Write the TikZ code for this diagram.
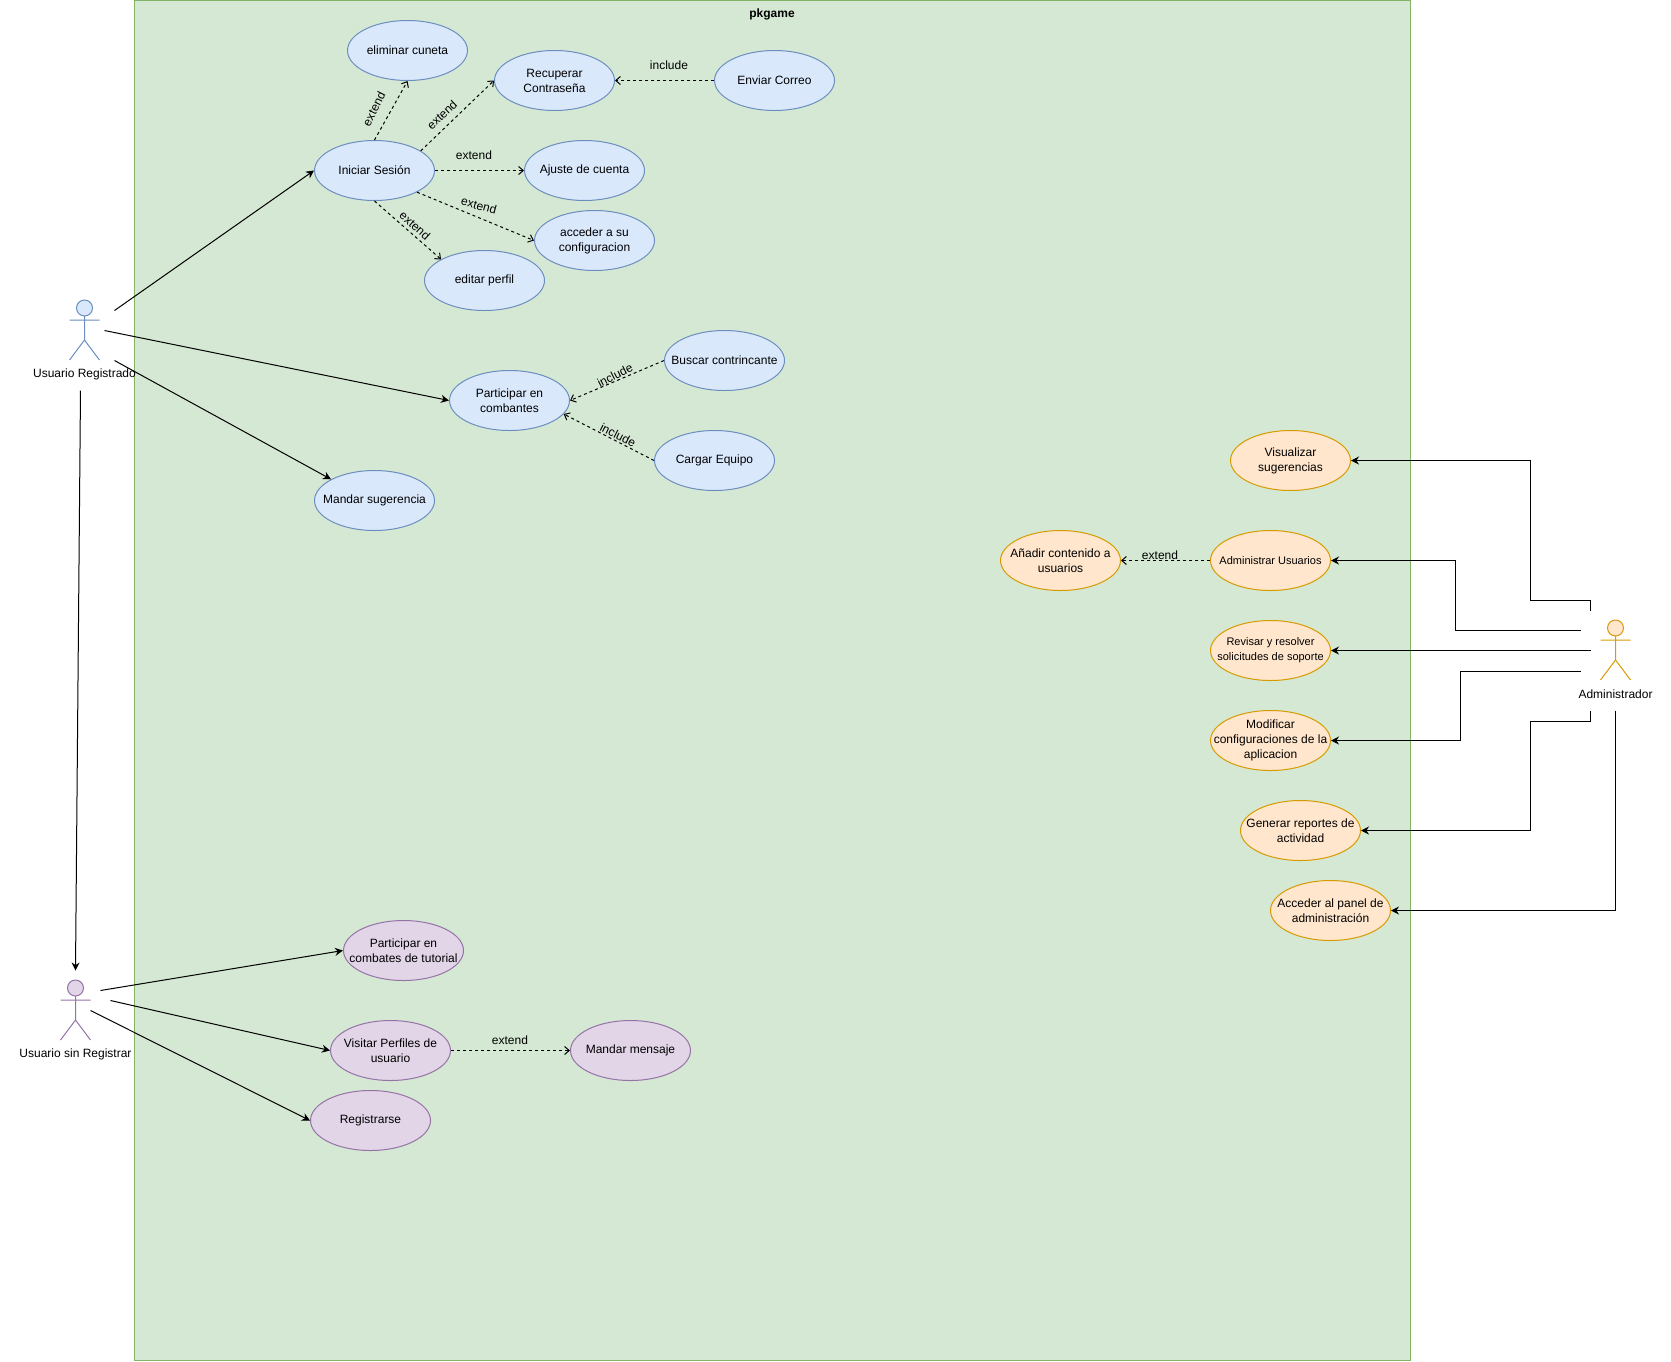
\documentclass[tikz,border=0pt]{standalone}
\usepackage{fontspec}
\setmainfont{Liberation Sans}
\usetikzlibrary{shapes.geometric, arrows.meta}

\definecolor{pkgfill}{HTML}{D5E8D4}
\definecolor{pkgline}{HTML}{82B366}
\definecolor{regfill}{HTML}{DAE8FC}
\definecolor{regline}{HTML}{6C8EBF}
\definecolor{admfill}{HTML}{FFE6CC}
\definecolor{admline}{HTML}{D79B00}
\definecolor{guestfill}{HTML}{E1D5E7}
\definecolor{guestline}{HTML}{9673A6}

\tikzset{
    txt/.style={font=\fontsize{9pt}{11.25pt}\selectfont, align=center, inner sep=0pt},
    usecase/.style={txt, ellipse, draw, line width=.75pt, inner xsep=-14pt, inner ysep=-4pt, minimum width=90pt, minimum height=45pt, execute at begin node={\vspace*{2.25pt}}},
    regcase/.style={usecase, draw=regline, fill=regfill},
    admcase/.style={usecase, draw=admline, fill=admfill},
    guestcase/.style={usecase, draw=guestline, fill=guestfill},
    smalltxt/.style={font=\fontsize{8.25pt}{11.25pt}\selectfont},
    assoc/.style={line width=.75pt, -{Stealth[length=6pt,width=6pt]}},
    relation/.style={line width=.75pt, dash pattern=on 2.25pt off 2.25pt, -{Straight Barb[length=3.5pt,width=6pt]}},
    actor/.pic={
        \draw[line width=.75pt, draw=#1line, fill=#1fill] (0,8) circle[radius=8];
        \draw[line width=.75pt, draw=#1line] (0,16) -- (0,40)
            (-15,20) -- (15,20)
            (-15,60) -- (0,40) -- (15,60);
    }
}

\begin{document}
\begin{tikzpicture}[x=.75pt, y=-.75pt]
        \useasboundingbox (0,0) rectangle (1671,1361);

        \node[draw=pkgline, fill=pkgfill, line width=.75pt, anchor=north west, inner sep=0pt, minimum width=957pt, minimum height=1020pt] (pkgame) at (134,0) {};
        \node[txt, font=\fontsize{9pt}{11pt}\selectfont\bfseries] (pkgametitle) at (772,14.5) {pkgame};

        \pic at (84.5,300) {actor=reg};
        \pic at (75.5,980) {actor=guest};
        \pic at (1615.5,620) {actor=adm};
        \node[txt] (reglabel) at (84.5,374.5) {Usuario Registrado};
        \node[txt] (guestlabel) at (75.5,1054.5) {Usuario sin Registrar};
        \node[txt] (admlabel) at (1615.5,694.5) {Administrador};

        \node[regcase] (eliminar) at (407.5,50.5) {eliminar cuneta};
        \node[regcase] (recuperar) at (554.5,80.5) {Recuperar\\Contraseña};
        \node[regcase] (enviar) at (774.5,80.5) {Enviar Correo};
        \node[regcase] (iniciar) at (374.5,170.5) {Iniciar Sesión};
        \node[regcase] (ajuste) at (584.5,170.5) {Ajuste de cuenta};
        \node[regcase] (acceder) at (594.5,240.5) {acceder a su\\configuracion};
        \node[regcase] (editar) at (484.5,280.5) {editar perfil};
        \node[regcase] (buscar) at (724.5,360.5) {Buscar contrincante};
        \node[regcase] (participar) at (509.5,400.5) {Participar en\\combantes};
        \node[regcase] (cargar) at (714.5,460.5) {Cargar Equipo};
        \node[regcase] (sugerencia) at (374.5,500.5) {Mandar sugerencia};

        \node[admcase] (visualizar) at (1290.5,460.5) {Visualizar\\sugerencias};
        \node[admcase] (anadir) at (1060.5,560.5) {Añadir contenido a\\usuarios};
        \node[admcase, smalltxt] (administrar) at (1270.5,560.5) {Administrar Usuarios};
        \node[admcase, smalltxt] (revisar) at (1270.5,650.5) {Revisar y resolver\\solicitudes de soporte};
        \node[admcase] (modificar) at (1270.5,740.5) {Modificar\\configuraciones de la\\aplicacion};
        \node[admcase] (generar) at (1300.5,830.5) {Generar reportes de\\actividad};
        \node[admcase] (panel) at (1330.5,910.5) {Acceder al panel de\\administración};

        \node[guestcase] (tutorial) at (403.5,950.5) {Participar en\\combates de tutorial};
        \node[guestcase] (visitar) at (390.5,1050.5) {Visitar Perfiles de\\usuario};
        \node[guestcase] (mensaje) at (630.5,1050.5) {Mandar mensaje};
        \node[guestcase] (registrarse) at (370.5,1120.5) {Registrarse};

        \coordinate (rega) at (114.5,310.5);
        \coordinate (regb) at (104.5,330.5);
        \coordinate (regc) at (114.5,360.5);
        \coordinate (regd) at (80.5,390.5);
        \coordinate (guesttop) at (75.5,970.5);
        \coordinate (guesta) at (100.5,990.5);
        \coordinate (guestb) at (110.5,1000.5);
        \coordinate (guestc) at (90.5,1010.5);
        \coordinate (adma) at (1590.5,610.5);
        \coordinate (admb) at (1580.5,630.5);
        \coordinate (admc) at (1590.5,650.5);
        \coordinate (admd) at (1580.5,671);
        \coordinate (adme) at (1590.5,710.5);
        \coordinate (admf) at (1615.5,710.5);

        \draw[assoc] (rega) to (iniciar.west);
        \draw[assoc] (regb) to (participar.west);
        \draw[assoc] (regc) to (sugerencia.154);
        \draw[assoc] (regd) to (guesttop);
        \draw[assoc] (guesta) to (tutorial.west);
        \draw[assoc] (guestb) to (visitar.west);
        \draw[assoc] (guestc) to (registrarse.west);

        \draw[assoc] (adma) |- (1530.5,600.5) |- (visualizar.east);
        \draw[assoc] (admb) -| (1455.5,560.5) -- (administrar.east);
        \draw[assoc] (admc) to (revisar.east);
        \draw[assoc] (admd) -| (1460.5,740.5) -- (modificar.east);
        \draw[assoc] (adme) |- (1530.5,721.5) |- (generar.east);
        \draw[assoc] (admf) |- (panel.east);

        \draw[relation] (iniciar.north) to (eliminar.south);
        \draw[relation] (iniciar.23) to (recuperar.west);
        \draw[relation] (iniciar.east) to (ajuste.west);
        \draw[relation] (iniciar.-27) to (acceder.west);
        \draw[relation] (iniciar.south) to (editar.154);
        \draw[relation] (enviar.west) to (recuperar.east);
        \draw[relation] (buscar.west) to (participar.east);
        \draw[relation] (cargar.west) to (participar.-14);
        \draw[relation] (administrar.west) to (anadir.east);
        \draw[relation] (visitar.east) to (mensaje.west);

        \node[txt, rotate=63] (exteliminar) at (374,109) {extend};
        \node[txt, rotate=43] (extrecuperar) at (442,115) {extend};
        \node[txt] (extajuste) at (474,155) {extend};
        \node[txt, rotate=-15] (extacceder) at (479,205.5) {extend};
        \node[txt, rotate=-42] (exteditar) at (415,225.5) {extend};
        \node[txt] (incenviar) at (669,65) {include};
        \node[txt, rotate=27] (incbuscar) at (615,375) {include};
        \node[txt, rotate=-27] (inccargar) at (618,435) {include};
        \node[txt] (extanadir) at (1160,555) {extend};
        \node[txt] (extmensaje) at (510,1040) {extend};
    \end{tikzpicture}
\end{document}
